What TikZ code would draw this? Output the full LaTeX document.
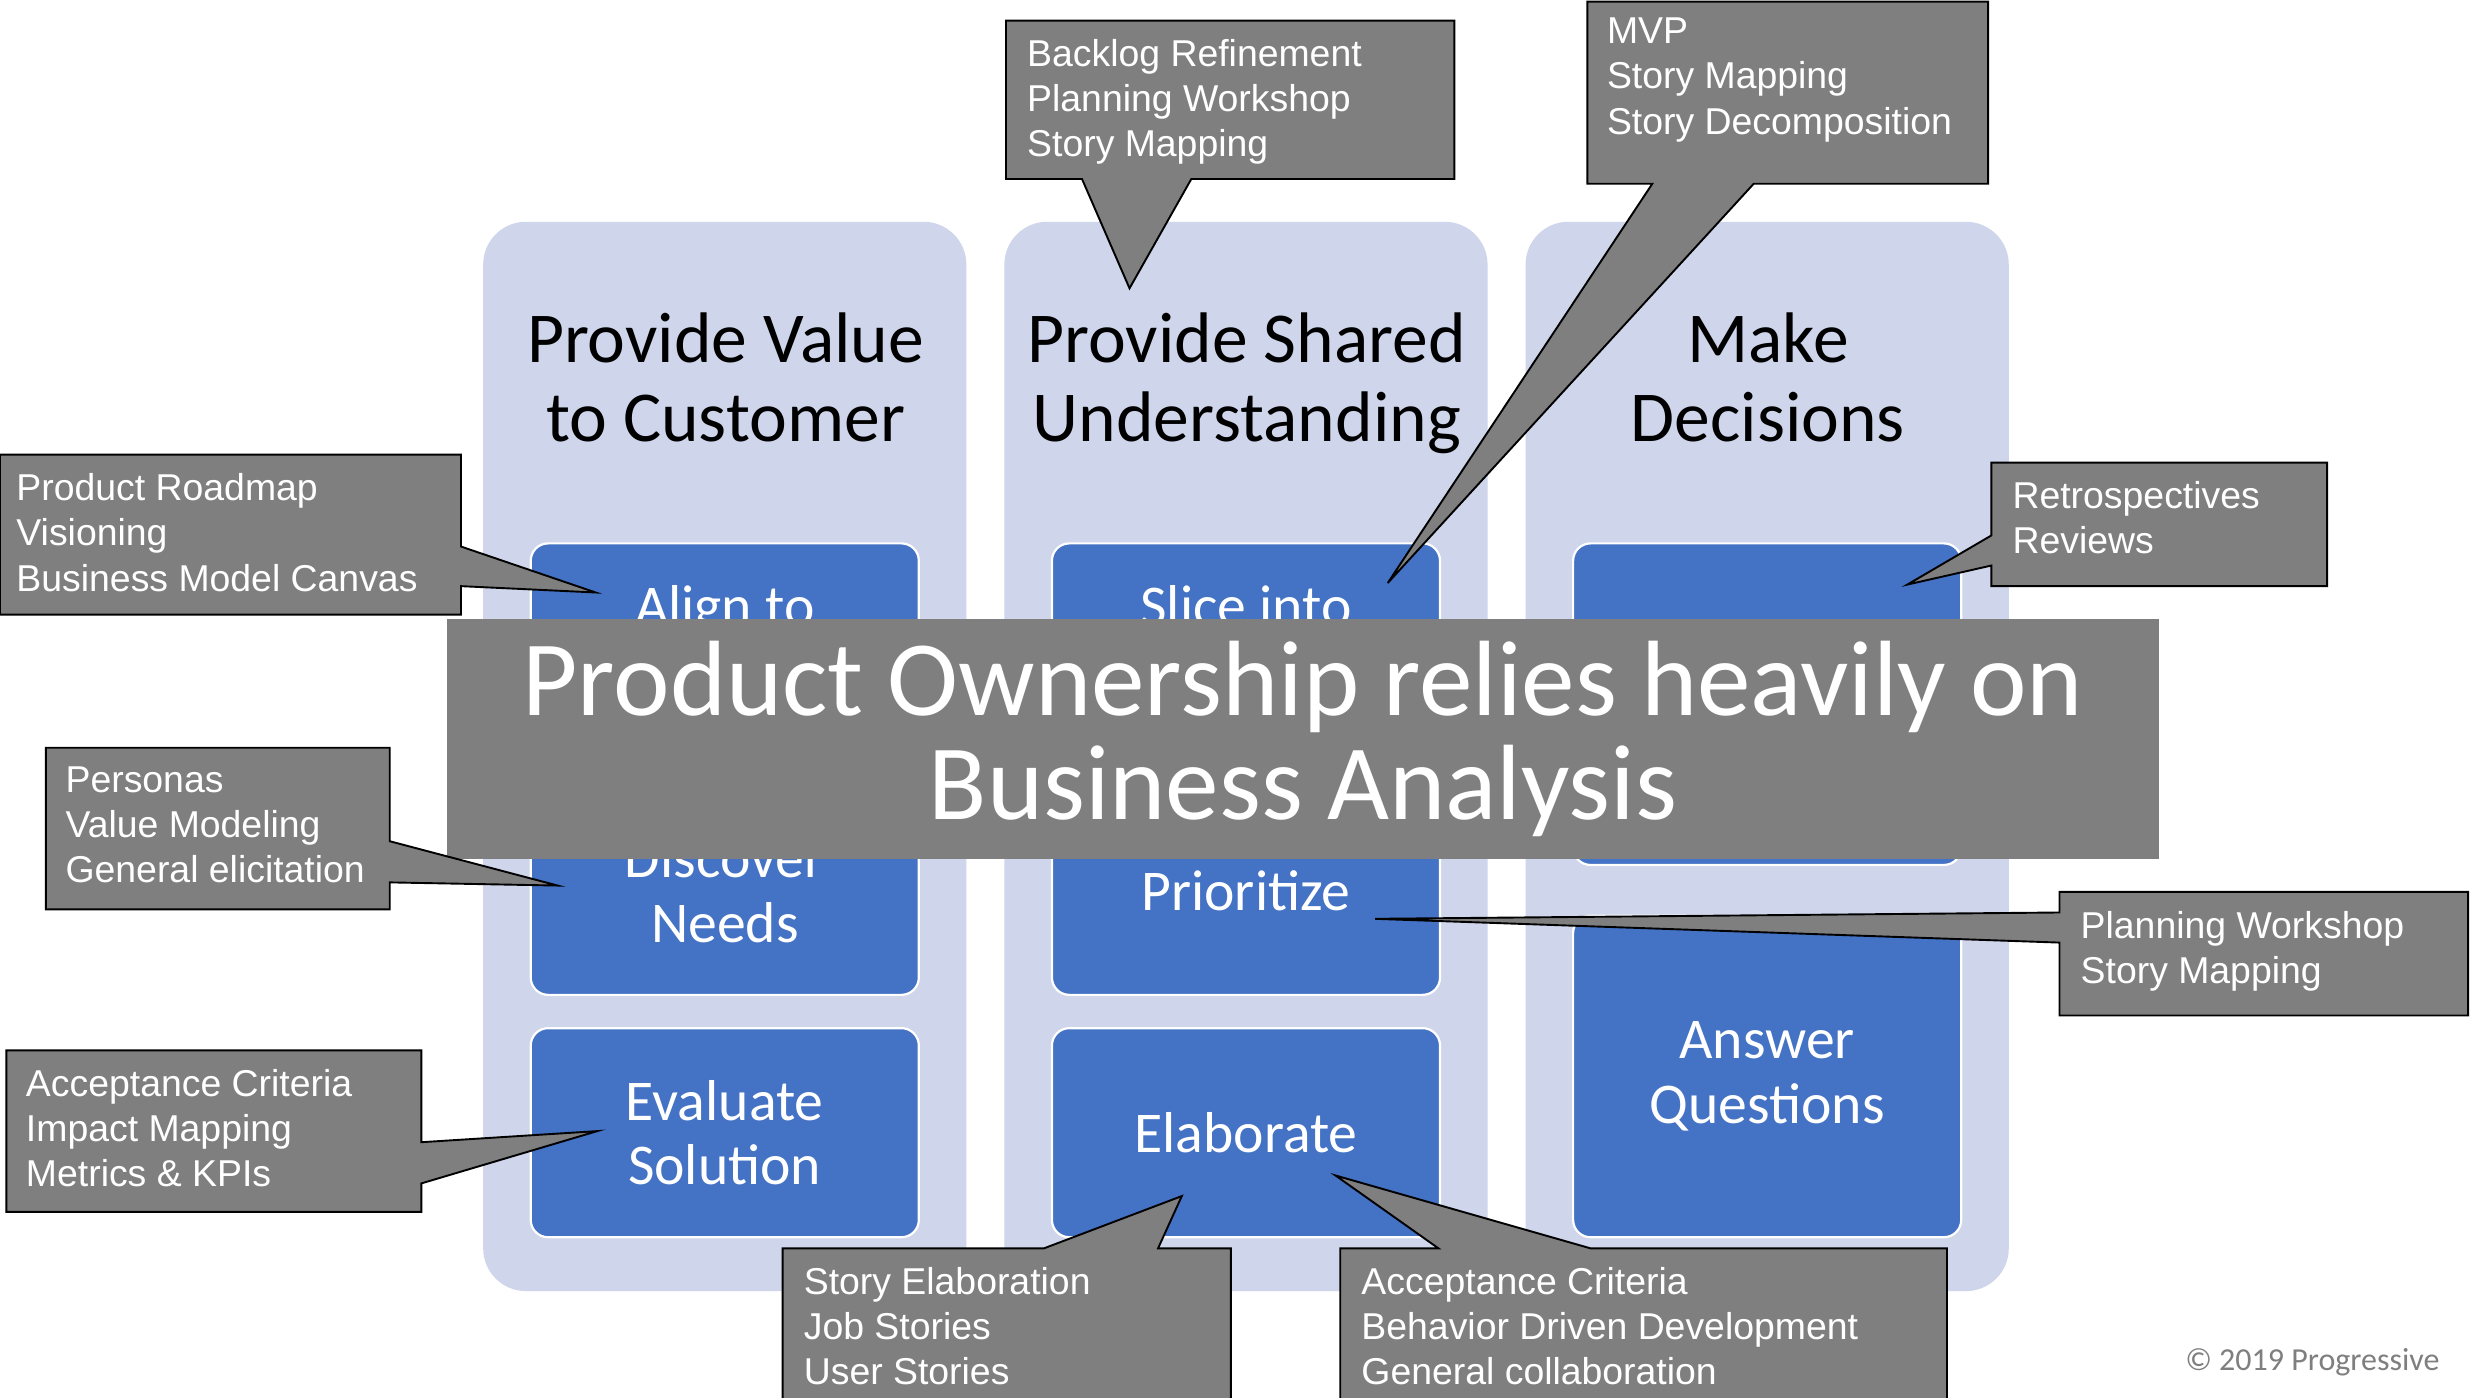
\documentclass[tikz,border=0pt]{standalone}
\usepackage{fontspec}
\usepackage{tikz}
\usetikzlibrary{positioning}
\newfontfamily\calfont{Carlito}
\newfontfamily\arialfont{Liberation Sans}
\definecolor{lane}{HTML}{CFD5EA}
\definecolor{task}{HTML}{4472C4}
\definecolor{note}{HTML}{7F7F7F}
\tikzset{
  callout/.style={fill=note,draw=black,line width=0.6pt,line join=miter},
  notetext/.style={text=white,font=\arialfont\fontsize{11.8}{14.25}\selectfont,align=left,anchor=north west,inner sep=0pt}
}

\begin{document}
\begin{tikzpicture}[x=0.5pt,y=-0.5pt]
  \useasboundingbox[fill=white] (0,0) rectangle (1568,882);
  % lanes
  \begin{scope}[every node/.style={fill=lane,rounded corners=13.5pt,minimum width=152.5pt,minimum height=337.5pt,inner sep=0pt}]
    \node (laneA) at (457.5,477.5) {};
    \node (laneB) at (786.5,477.5) {};
    \node (laneC) at (1115.5,477.5) {};
  \end{scope}
  \begin{scope}[every node/.style={font=\calfont\fontsize{22.6}{25}\selectfont,align=center,anchor=base,inner sep=0pt}]
    \node (headA) at (458,279) {Provide Value\\to Customer};
    \node (headB) at (787,279) {Provide Shared\\Understanding};
    \node (headC) at (1116,279) {Make\\Decisions};
  \end{scope}
  % tasks
  \begin{scope}[every node/.style={fill=task,draw=white,line width=0.7pt,rounded corners=5.5pt,minimum width=122.5pt,minimum height=66pt,text=white,align=center,font=\calfont\fontsize{18.2}{20.5}\selectfont}]
    \node (align) at (457.5,409) {Align to\\\strut};
    \node (discover) at (457.5,562) {Discover\\Needs};
    \node (evaluate) at (457.5,715) {Evaluate\\Solution};
    \node (slice) at (786.5,409) {Slice into\\\strut};
    \node (prioritize) at (786.5,562) {Prioritize};
    \node (elaborate) at (786.5,715) {Elaborate};
    \node[minimum height=101.5pt] (decide) at (1115.5,444.5) {};
    \node[minimum height=101.5pt] (answer) at (1115.5,679.5) {Answer\\Questions};
  \end{scope}
  % banner
  \node[fill=note,text=white,minimum width=540.5pt,minimum height=75.5pt,inner sep=0pt,align=center,
        font=\calfont\fontsize{33.8}{33}\selectfont] (banner) at (822.5,466.5)
        {Product Ownership relies heavily on\\Business Analysis};
  % callouts
  \draw[callout] (0,287) -- (291,287) -- (291,345) -- (376,374) -- (291,370) -- (291,388) -- (0,388) -- cycle;
  \draw[callout] (29,472) -- (246,472) -- (246,531) -- (352,559) -- (246,557) -- (246,574) -- (29,574) -- cycle;
  \draw[callout] (4,663) -- (266,663) -- (266,721) -- (377,714) -- (266,747) -- (266,765) -- (4,765) -- cycle;
  \draw[callout] (635,13) -- (918,13) -- (918,113) -- (752,113) -- (713,182) -- (683,113) -- (635,113) -- cycle;
  \draw[callout] (1002,1) -- (1255,1) -- (1255,116) -- (1107,116) -- (876,368) -- (1043,116) -- (1002,116) -- cycle;
  \draw[callout] (1257,292) -- (1469,292) -- (1469,370) -- (1257,370) -- (1257,357) -- (1204,369) -- (1257,338) -- cycle;
  \draw[callout] (1300,563) -- (1558,563) -- (1558,641) -- (1300,641) -- (1300,595) -- (868,580) -- (1300,576) -- cycle;
  \draw[callout] (494,890) -- (494,788) -- (659,788) -- (746,755) -- (731,788) -- (777,788) -- (777,890) -- cycle;
  \draw[callout] (846,890) -- (846,788) -- (908,788) -- (843,742) -- (1004,788) -- (1229,788) -- (1229,890) -- cycle;
  \begin{scope}[every node/.style={notetext}]
    \node (roadmap) at (10,298.6) {Product Roadmap\\Visioning\\Business Model Canvas};
    \node (personas) at (41,483.6) {Personas\\Value Modeling\\General elicitation};
    \node (metrics) at (16,674.6) {Acceptance Criteria\\Impact Mapping\\Metrics \& KPIs};
    \node (backlog) at (648,24.6) {Backlog Refinement\\Planning Workshop\\Story Mapping};
    \node (mvp) at (1014,11) {MVP\\Story Mapping\\Story Decomposition};
    \node (retro) at (1270,303.6) {Retrospectives\\Reviews};
    \node (workshop) at (1313,574.6) {Planning Workshop\\Story Mapping};
    \node (stories) at (507,799.6) {Story Elaboration\\Job Stories\\User Stories};
    \node (bdd) at (859,799.6) {Acceptance Criteria\\Behavior Driven Development\\General collaboration};
  \end{scope}
  \node[anchor=base west,inner sep=0pt,text=note,font=\calfont\fontsize{10.1}{12}\selectfont] (copy) at (1379,865) {© 2019 Progressive};
\end{tikzpicture}
\end{document}
